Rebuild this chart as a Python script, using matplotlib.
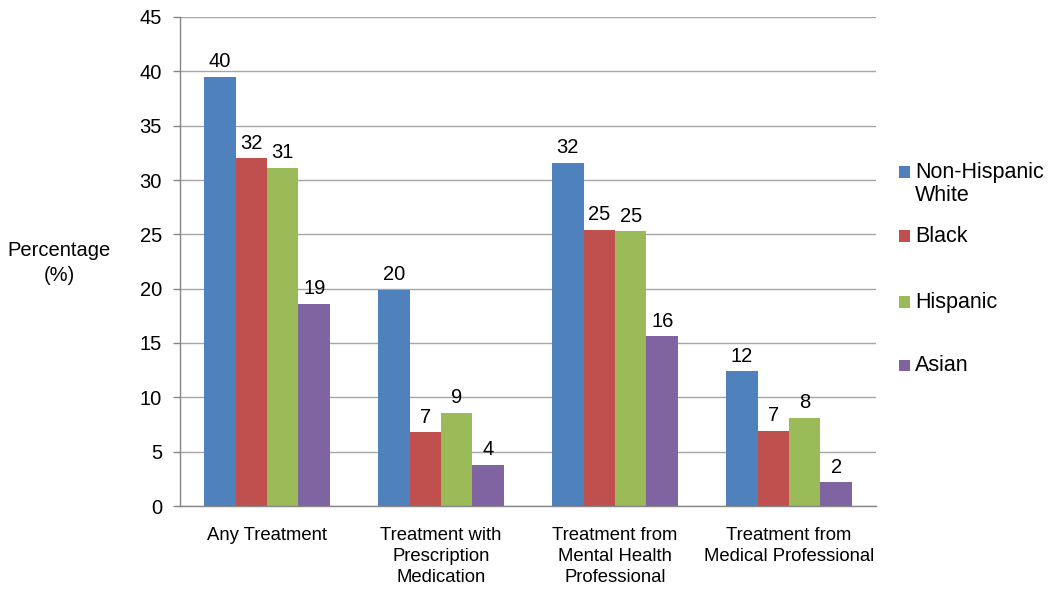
import matplotlib
matplotlib.use("Agg")
import matplotlib.pyplot as plt
from matplotlib.patches import Rectangle
import numpy as np

plt.rcParams['font.family'] = ['Liberation Sans', 'DejaVu Sans']

categories = ["Any Treatment", "Treatment with\nPrescription\nMedication",
              "Treatment from\nMental Health\nProfessional",
              "Treatment from\nMedical Professional"]
series_names = ["Non-Hispanic\nWhite", "Black", "Hispanic", "Asian"]
white = [39.5, 19.9, 31.6, 12.4]
black = [32.0, 6.8, 25.4, 6.9]
hispanic = [31.1, 8.6, 25.3, 8.1]
asian = [18.6, 3.8, 15.6, 2.2]
label_white = ["40", "20", "32", "12"]
label_black = ["32", "7", "25", "7"]
label_hispanic = ["31", "9", "25", "8"]
label_asian = ["19", "4", "16", "2"]
yticks = [0, 5, 10, 15, 20, 25, 30, 35, 40, 45]

colors = ["#4F81BD", "#C0504D", "#9BBB59", "#8064A2"]
values = [white, black, hispanic, asian]
labels = [label_white, label_black, label_hispanic, label_asian]

fig = plt.figure(figsize=(10.5, 5.91), dpi=100)
ax = fig.add_axes([180/1050, 1-506/591, 696/1050, 489/591])

x = np.arange(len(categories))
w = 0.181
for i, (vals, lab, c, name) in enumerate(zip(values, labels, colors, series_names)):
    bars = ax.bar(x + (i - 1.5) * w, vals, width=w, color=c, label=name, zorder=3)
    ax.bar_label(bars, labels=lab, padding=4, fontsize=14.5)

ax.set_xlim(-0.5, len(categories) - 0.5)
ax.set_ylim(0, 45)
ax.set_yticks(yticks)
ax.set_xticks(x)
ax.set_xticklabels(categories, fontsize=13.3, linespacing=1.32)
ax.tick_params(axis='x', length=0, pad=15)
ax.tick_params(axis='y', length=5, width=1, color='#868686', pad=8, labelsize=14.5)
ax.yaxis.grid(True, color='#A6A6A6', linewidth=1, zorder=0)
for s in ['top', 'right']:
    ax.spines[s].set_visible(False)
for s in ['left', 'bottom']:
    ax.spines[s].set_color('#868686')
    ax.spines[s].set_linewidth(1)
    ax.spines[s].set_zorder(4)

ax.set_ylabel("Percentage\n(%)", rotation=0, fontsize=14.5, ha='center', va='center',
              linespacing=1.35)
ax.yaxis.set_label_coords(-0.174, 0.497)

# Legend (placed like the original's right-hand key)
leg_marker_y = [0.683, 0.552, 0.417, 0.288]
leg_text_y = [0.658, 0.552, 0.417, 0.288]
for name, c, my, ty in zip(series_names, colors, leg_marker_y, leg_text_y):
    ax.add_patch(Rectangle((1.033, my - 0.0115), 0.0158, 0.023, transform=ax.transAxes,
                           facecolor=c, edgecolor='none', clip_on=False))
    ax.text(1.056, ty, name, transform=ax.transAxes, fontsize=15.5, ha='left',
            va='center', linespacing=1.1)

fig.savefig("out.png", dpi=100)
